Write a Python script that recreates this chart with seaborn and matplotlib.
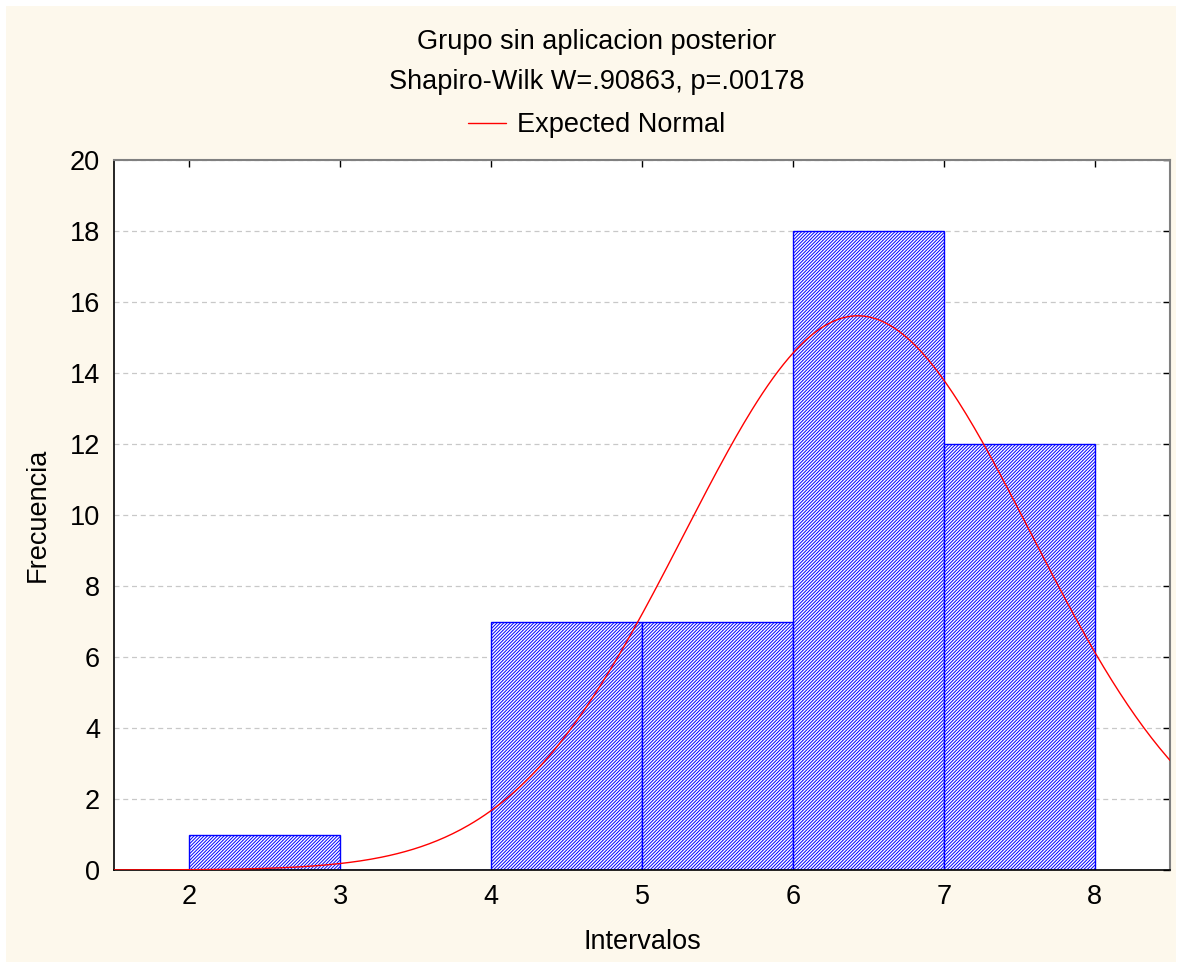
import numpy as np
import pandas as pd
import matplotlib
matplotlib.use("Agg")
import matplotlib.pyplot as plt
import seaborn as sns

bin_edges = [2, 3, 4, 5, 6, 7, 8]
bin_counts = [1, 0, 7, 7, 18, 12]
bin_centers = [2.5, 3.5, 4.5, 5.5, 6.5, 7.5]

# Parametros de la normal esperada (estimados del grafico)
normal_mean = 6.43
normal_sd = 1.15
n_total = 45

x_ticks = [2, 3, 4, 5, 6, 7, 8]
y_ticks = [0, 2, 4, 6, 8, 10, 12, 14, 16, 18, 20]

sns.set_theme(style="white")
plt.rcParams['font.family'] = ['Liberation Sans', 'DejaVu Sans']
plt.rcParams['text.color'] = 'black'
plt.rcParams['axes.labelcolor'] = 'black'
plt.rcParams['hatch.color'] = '#0000ff'
plt.rcParams['hatch.linewidth'] = 0.7

fs = 19.5
bg = '#fdf8ec'
fig = plt.figure(figsize=(11.82, 9.68), dpi=100, facecolor='white')
# fondo crema con borde blanco
fig.patches.append(plt.Rectangle((6 / 1182, 6 / 968), 1 - 12 / 1182, 1 - 12 / 968,
                                 transform=fig.transFigure, facecolor=bg,
                                 edgecolor='none', zorder=-10))
ax = fig.add_axes([114 / 1182, 98 / 968, 1056 / 1182, 710 / 968])
ax.set_facecolor('white')

df = pd.DataFrame({'centro': bin_centers, 'frecuencia': bin_counts})
sns.histplot(data=df, x='centro', weights='frecuencia', bins=bin_edges,
             stat='count', color='white', edgecolor='#0000ff', linewidth=1.0,
             alpha=1, hatch='/' * 10, ax=ax, zorder=2)

xs = np.linspace(1.5, 8.5, 400)
ys = n_total / (normal_sd * np.sqrt(2 * np.pi)) * np.exp(-0.5 * ((xs - normal_mean) / normal_sd) ** 2)
curve = pd.DataFrame({'x': xs, 'y': ys})
sns.lineplot(data=curve, x='x', y='y', color='#ff0000', linewidth=1.0, ax=ax,
             label='Expected Normal', zorder=3)

ax.set_xlim(1.5, 8.5)
ax.set_ylim(0, 20)
ax.set_xticks(x_ticks)
ax.set_yticks(y_ticks)
ax.yaxis.grid(True, linestyle=(0, (4, 3)), color='#c8c8c8', linewidth=0.9, zorder=0)
ax.set_axisbelow(True)
ax.tick_params(direction='in', length=5, width=1, labelsize=fs, colors='black',
               top=True, right=True, pad=10)
for side in ['top', 'right']:
    ax.spines[side].set_color('#808080')
    ax.spines[side].set_linewidth(1.5)
for side in ['left', 'bottom']:
    ax.spines[side].set_color('black')
    ax.spines[side].set_linewidth(1.2)

ax.set_xlabel('Intervalos', fontsize=fs, labelpad=14)
ax.set_ylabel('Frecuencia', fontsize=fs, labelpad=14)

cx = 597 / 1182
fig.text(cx, 1 - 42 / 968, 'Grupo sin aplicacion posterior', ha='center', va='center', fontsize=fs)
fig.text(cx, 1 - 82 / 968, 'Shapiro-Wilk W=.90863, p=.00178', ha='center', va='center', fontsize=fs)
ax.legend(loc='center', bbox_to_anchor=(cx, 1 - 125 / 968), bbox_transform=fig.transFigure,
          frameon=False, fontsize=fs, handlelength=1.4, handletextpad=0.4)

fig.savefig('out.png', dpi=100, facecolor=fig.get_facecolor())
